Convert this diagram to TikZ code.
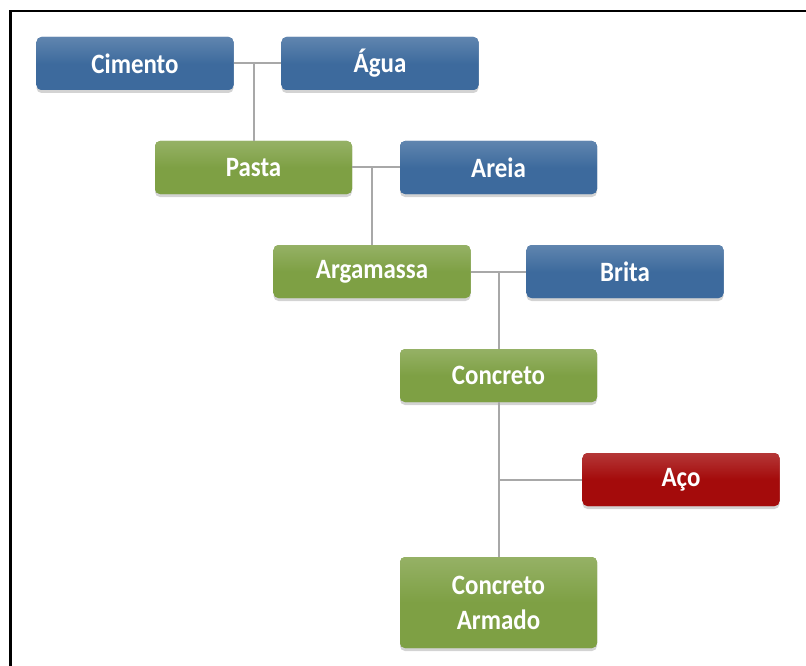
\documentclass[tikz,border=0pt]{standalone}
\usepackage{fontspec}
\setmainfont{Carlito}[FakeStretch=0.89]
\usetikzlibrary{shadows}
\definecolor{boxblue}{HTML}{3D6A9D}
\definecolor{boxgreen}{HTML}{7EA044}
\definecolor{boxred}{HTML}{A40B0B}
\definecolor{linkgray}{HTML}{A8A8A8}
\tikzset{
  box/.style={rounded corners=5pt, minimum width=197pt, minimum height=53pt,
    inner sep=0pt, text=white, align=center,
    font=\fontsize{28}{35}\selectfont\bfseries,
    drop shadow={opacity=0.35, shadow xshift=0pt, shadow yshift=-3pt}},
  bluebox/.style={box, fill=boxblue, top color=boxblue!82!white, bottom color=boxblue, middle color=boxblue},
  greenbox/.style={box, fill=boxgreen, top color=boxgreen!82!white, bottom color=boxgreen, middle color=boxgreen},
  redbox/.style={box, fill=boxred, top color=boxred!82!white, bottom color=boxred, middle color=boxred},
  link/.style={draw=linkgray, line width=2pt},
  frame/.style={draw=black, line width=2.2pt}
}
\begin{document}
\begin{tikzpicture}[x=1pt, y=-1pt]
\useasboundingbox (0,0) rectangle (806,666);
\coordinate (ftl) at (10.5,11);
\coordinate (ftr) at (806,11);
\coordinate (fbl) at (10.5,666);
\draw[frame] (fbl) -- (ftl) -- (ftr);

\node[bluebox] (cim) at (135,63.5) {Cimento};
\node[bluebox] (agu) at (380,63.5) {Água};
\node[greenbox] (pas) at (253.5,167.5) {Pasta};
\node[bluebox] (are) at (498.5,167.5) {Areia};
\node[greenbox] (arg) at (372,271.5) {Argamassa};
\node[bluebox] (bri) at (625,271.5) {Brita};
\node[greenbox] (con) at (498.5,375.5) {Concreto};
\node[redbox] (aco) at (681,479.5) {Aço};
\node[greenbox, minimum height=91pt] (cam) at (498.5,602.5) {Concreto\\Armado};

\coordinate (j1) at (pas.north |- cim.east);
\coordinate (j2) at (arg.north |- pas.east);
\coordinate (j3) at (con.north |- arg.east);
\coordinate (j4) at (con.south |- aco.west);

\draw[link] (cim.east) -- (agu.west);
\draw[link] (j1) -- (pas.north);
\draw[link] (pas.east) -- (are.west);
\draw[link] (j2) -- (arg.north);
\draw[link] (arg.east) -- (bri.west);
\draw[link] (j3) -- (con.north);
\draw[link] (con.south) -- (cam.north);
\draw[link] (j4) -- (aco.west);
\end{tikzpicture}
\end{document}
